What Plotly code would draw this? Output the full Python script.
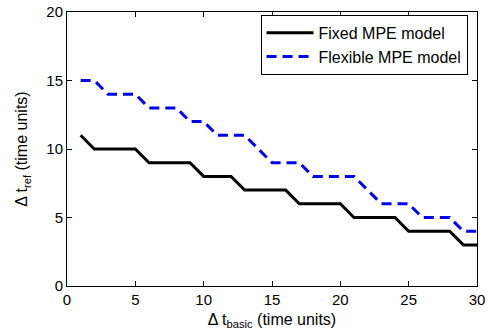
import plotly.graph_objects as go

x_vals = list(range(1, 31))
fixed_mpe = [11, 10, 10, 10, 10, 9, 9, 9, 9, 8, 8, 8, 7, 7, 7, 7, 6, 6, 6, 6,
             5, 5, 5, 5, 4, 4, 4, 4, 3, 3]
flexible_mpe = [15, 15, 14, 14, 14, 13, 13, 13, 12, 12, 11, 11, 11, 10, 9, 9, 9, 8, 8, 8,
                8, 7, 6, 6, 6, 5, 5, 5, 4, 4]
x_ticks = [0, 5, 10, 15, 20, 25, 30]
y_ticks = [0, 5, 10, 15, 20]

FONT = "Liberation Sans, Arial, sans-serif"

fig = go.Figure()
fig.add_trace(go.Scatter(x=x_vals, y=fixed_mpe, mode="lines", name="Fixed MPE model",
                         line=dict(color="black", width=3)))
fig.add_trace(go.Scatter(x=x_vals, y=flexible_mpe, mode="lines", name="Flexible MPE model",
                         line=dict(color="#0000ff", width=3, dash="10px,6px")))

axis_common = dict(showgrid=False, zeroline=False, showline=True, linecolor="black",
                   linewidth=1, mirror="ticks", ticks="inside", ticklen=5, tickwidth=1,
                   tickcolor="black", automargin=False,
                   tickfont=dict(family=FONT, size=15, color="black"))

fig.update_layout(
    width=488, height=333,
    margin=dict(l=67, r=11, t=12, b=47),
    paper_bgcolor="white", plot_bgcolor="white",
    font=dict(family=FONT, size=15, color="black"),
    showlegend=True,
    legend=dict(x=0.472, y=0.99, xanchor="left", yanchor="top",
                bordercolor="black", borderwidth=1, bgcolor="white",
                font=dict(family=FONT, size=16, color="black"),
                tracegroupgap=0, itemwidth=47),
    xaxis=dict(range=[0, 30], tickvals=x_ticks, ticktext=[str(v) for v in x_ticks],
               title=dict(text="Δ t<sub>basic</sub> (time units)", standoff=6,
                          font=dict(family=FONT, size=16, color="black")),
               **axis_common),
    yaxis=dict(range=[0, 20], tickvals=y_ticks, ticktext=[str(v) for v in y_ticks],
               title=dict(text="Δ t<sub>ref</sub> (time units)", standoff=14,
                          font=dict(family=FONT, size=16, color="black")),
               **axis_common),
)

fig.write_html("out.html")
